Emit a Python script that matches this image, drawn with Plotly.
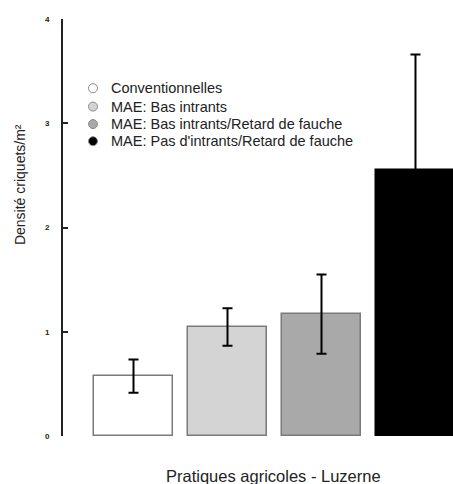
import plotly.graph_objects as go

categories = ["Conventionnelles", "MAE: Bas intrants",
              "MAE: Bas intrants/Retard de fauche",
              "MAE: Pas d'intrants/Retard de fauche"]
densite = [0.575, 1.045, 1.17, 2.55]
erreur = [0.16, 0.18, 0.38, 1.11]
couleurs = ["#ffffff", "#d4d4d4", "#a9a9a9", "#000000"]
bordures = ["#7a7a7a", "#7a7a7a", "#7a7a7a", "#000000"]
y_ticks = [0, 1, 2, 3, 4]

FONT = "Liberation Sans, Arial, sans-serif"

W, H = 453, 484
ML, MT, PH = 63, 19, 417
MB = H - MT - PH
PW = W - ML

fig = go.Figure()
xs = list(range(len(categories)))
fig.add_trace(go.Bar(
    x=xs, y=densite, width=0.84,
    marker=dict(color=couleurs, line=dict(color=bordures, width=1.5)),
    error_y=dict(type="data", array=erreur, visible=True,
                 color="#000000", thickness=2, width=5),
    showlegend=False,
))

# legend drawn as circles + text (rows spaced tighter than plotly's legend allows)
legend_y = [0.834, 0.790, 0.748, 0.707]
mx, tx = 30 / PW, 46 / PW
shapes = []
annotations = []
for name, c, yy in zip(categories, couleurs, legend_y):
    shapes.append(dict(type="circle", xref="paper", yref="paper",
                       xsizemode="pixel", ysizemode="pixel",
                       xanchor=mx, yanchor=yy, x0=-4.5, x1=4.5, y0=-4.5, y1=4.5,
                       fillcolor=c, line=dict(color="#8a8a8a", width=1)))
    annotations.append(dict(text=name, xref="paper", yref="paper", x=tx, y=yy,
                            xanchor="left", yanchor="middle", showarrow=False,
                            font=dict(size=14.5, family=FONT, color="#222222")))

annotations += [
    dict(text="Pratiques agricoles - Luzerne", xref="paper", yref="paper",
         x=0.541, y=0, yshift=-40, xanchor="center", yanchor="middle",
         showarrow=False, font=dict(size=16.5, family=FONT, color="#222222")),
    dict(text="Densité criquets/m²", xref="paper", yref="paper",
         x=-0.110, y=0.602, xanchor="center", yanchor="middle",
         textangle=-90, showarrow=False,
         font=dict(size=14, family=FONT, color="#222222")),
]

fig.update_layout(
    width=W, height=H,
    margin=dict(l=ML, r=0, t=MT, b=MB, pad=0),
    plot_bgcolor="white", paper_bgcolor="white",
    font=dict(family=FONT, color="#222222"),
    bargap=0, showlegend=False,
    xaxis=dict(range=[-0.75, 3.399], showline=False, showticklabels=False,
               ticks="", showgrid=False, zeroline=False),
    yaxis=dict(range=[0, 4], tickvals=y_ticks,
               ticktext=[f"<b>{v}</b>" for v in y_ticks],
               ticks="inside", ticklen=5, tickwidth=1.5, tickcolor="#222222",
               showline=True, linecolor="#222222", linewidth=2,
               showgrid=False, zeroline=False,
               tickfont=dict(size=8, family=FONT, color="#222222"),
               ticklabelstandoff=10),
    shapes=shapes,
    annotations=annotations,
)

fig.write_html(
    "out.html",
    config={"displayModeBar": False},
    post_script="document.body.style.margin='0';document.body.style.overflow='hidden';",
)
